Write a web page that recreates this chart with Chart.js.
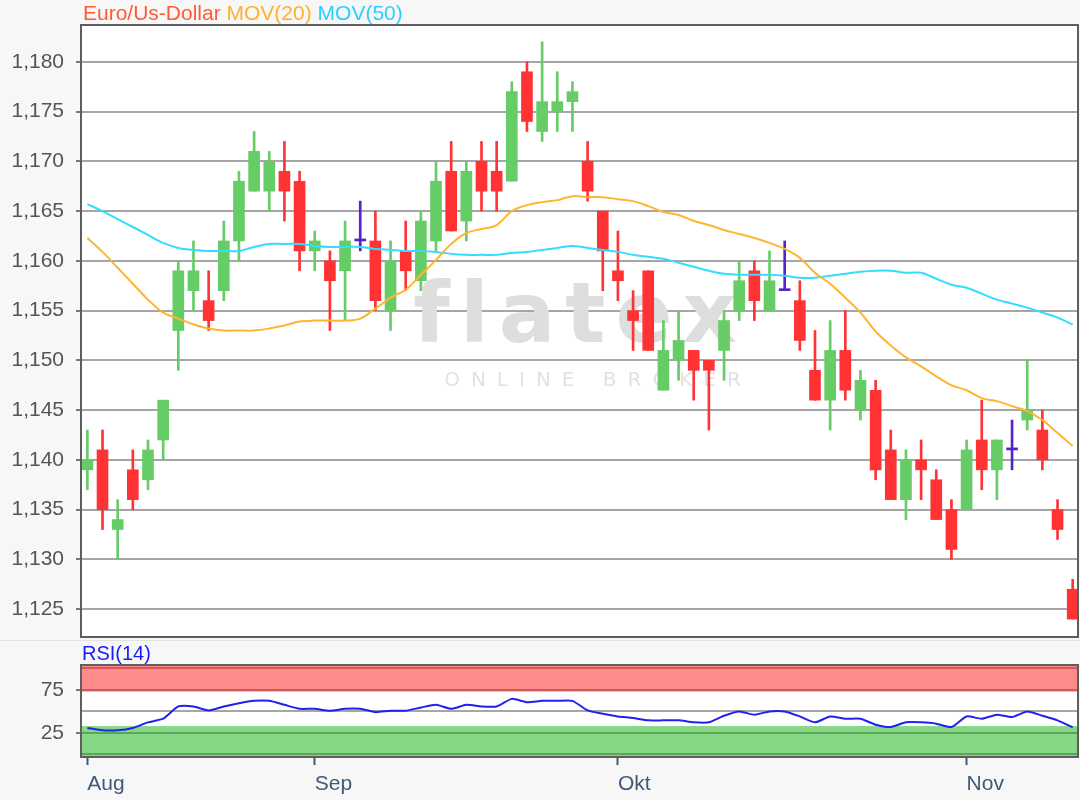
<!DOCTYPE html>
<html>
<head>
<meta charset="utf-8">
<script src="https://cdn.jsdelivr.net/npm/chart.js@4.4.1/dist/chart.umd.min.js"></script>
<style>
  html, body { margin: 0; padding: 0; background: #f7f7f7; }
  #wrap { position: relative; width: 1080px; height: 800px; }
  #priceBox { position: absolute; left: 0; top: 0; width: 1080px; height: 640px; }
  #rsiBox { position: absolute; left: 0; top: 640px; width: 1080px; height: 160px; }
</style>
</head>
<body>
<div id="wrap">
  <div id="priceBox"><canvas id="priceChart" width="1080" height="640"></canvas></div>
  <div id="rsiBox"><canvas id="rsiChart" width="1080" height="160"></canvas></div>
</div>
<script>
/* =========================
   DATA (daily candles)
========================= */

const opens = [
  1.139, 1.141, 1.133, 1.139, 1.138, 1.142, 1.153, 1.157, 1.156, 1.157,
  1.162, 1.167, 1.167, 1.169, 1.168, 1.161, 1.160, 1.159, 1.162, 1.162,
  1.155, 1.161, 1.158, 1.162, 1.169, 1.164, 1.170, 1.169, 1.168, 1.179,
  1.173, 1.175, 1.176, 1.170, 1.165, 1.159, 1.155, 1.159, 1.147, 1.150,
  1.151, 1.150, 1.151, 1.155, 1.159, 1.155, 1.157, 1.156, 1.149, 1.146,
  1.151, 1.145, 1.147, 1.141, 1.136, 1.140, 1.138, 1.135, 1.135, 1.142,
  1.139, 1.141, 1.144, 1.143, 1.135, 1.127
];
const closes = [
  1.140, 1.135, 1.134, 1.136, 1.141, 1.146, 1.159, 1.159, 1.154, 1.162,
  1.168, 1.171, 1.170, 1.167, 1.161, 1.162, 1.158, 1.162, 1.162, 1.156,
  1.160, 1.159, 1.164, 1.168, 1.163, 1.169, 1.167, 1.167, 1.177, 1.174,
  1.176, 1.176, 1.177, 1.167, 1.161, 1.158, 1.154, 1.151, 1.151, 1.152,
  1.149, 1.149, 1.154, 1.158, 1.156, 1.158, 1.157, 1.152, 1.146, 1.151,
  1.147, 1.148, 1.139, 1.136, 1.140, 1.139, 1.134, 1.131, 1.141, 1.139,
  1.142, 1.141, 1.145, 1.140, 1.133, 1.124
];
const highs = [
  1.143, 1.143, 1.136, 1.141, 1.142, 1.146, 1.160, 1.162, 1.159, 1.164,
  1.169, 1.173, 1.171, 1.172, 1.169, 1.163, 1.161, 1.164, 1.166, 1.165,
  1.162, 1.164, 1.165, 1.170, 1.172, 1.170, 1.172, 1.172, 1.178, 1.180,
  1.182, 1.179, 1.178, 1.172, 1.165, 1.163, 1.157, 1.159, 1.154, 1.155,
  1.151, 1.150, 1.155, 1.160, 1.160, 1.161, 1.162, 1.158, 1.153, 1.154,
  1.155, 1.149, 1.148, 1.143, 1.141, 1.142, 1.139, 1.136, 1.142, 1.146,
  1.142, 1.144, 1.150, 1.145, 1.136, 1.128
];
const lows = [
  1.137, 1.133, 1.130, 1.135, 1.137, 1.140, 1.149, 1.155, 1.153, 1.156,
  1.160, 1.167, 1.165, 1.164, 1.159, 1.159, 1.153, 1.154, 1.161, 1.155,
  1.153, 1.157, 1.157, 1.161, 1.163, 1.162, 1.165, 1.165, 1.168, 1.173,
  1.172, 1.173, 1.173, 1.166, 1.157, 1.156, 1.151, 1.151, 1.147, 1.148,
  1.146, 1.143, 1.148, 1.154, 1.154, 1.155, 1.157, 1.151, 1.146, 1.143,
  1.146, 1.144, 1.138, 1.136, 1.134, 1.136, 1.134, 1.130, 1.135, 1.137,
  1.136, 1.139, 1.143, 1.139, 1.132, 1.124
];

const mov20 = [
  1.1623, 1.1609, 1.1593, 1.1577, 1.1561, 1.1548, 1.1542, 1.1536, 1.1532, 1.1530,
  1.1530, 1.1530, 1.1532, 1.1535, 1.1539, 1.1540, 1.1540, 1.1540, 1.1542, 1.1552,
  1.1563, 1.1571, 1.1586, 1.1601, 1.1617, 1.1628, 1.1632, 1.1636, 1.1650, 1.1656,
  1.1659, 1.1661, 1.1665, 1.1664, 1.1664, 1.1662, 1.1660, 1.1655, 1.1649, 1.1646,
  1.1640, 1.1636, 1.1631, 1.1627, 1.1623, 1.1618, 1.1612, 1.1603, 1.1588, 1.1577,
  1.1563, 1.1548, 1.1529, 1.1515, 1.1503, 1.1494, 1.1484, 1.1475, 1.1470, 1.1462,
  1.1459, 1.1454, 1.1449, 1.1440, 1.1427, 1.1414
];
const mov50 = [
  1.1657, 1.1650, 1.1642, 1.1634, 1.1626, 1.1618, 1.1613, 1.1611, 1.1610, 1.1610,
  1.1610, 1.1614, 1.1617, 1.1617, 1.1617, 1.1615, 1.1614, 1.1614, 1.1614, 1.1612,
  1.1611, 1.1610, 1.1610, 1.1609, 1.1607, 1.1606, 1.1606, 1.1606, 1.1608, 1.1609,
  1.1611, 1.1613, 1.1615, 1.1613, 1.1611, 1.1609, 1.1606, 1.1604, 1.1602, 1.1598,
  1.1594, 1.1590, 1.1587, 1.1586, 1.1586, 1.1586, 1.1585, 1.1583, 1.1583, 1.1585,
  1.1587, 1.1589, 1.1590, 1.1590, 1.1588, 1.1588, 1.1582, 1.1576, 1.1573, 1.1567,
  1.1561, 1.1557, 1.1553, 1.1548, 1.1543, 1.1536
];

const rsi14 = [
  30.8, 28.1, 28.1, 30.8, 37.3, 41.5, 55.8, 55.8, 51.2, 55.8,
  59.6, 62.3, 62.3, 57.7, 53.1, 53.1, 50.8, 53.1, 53.1, 49.2,
  50.8, 50.8, 54.6, 57.7, 53.1, 57.7, 55.8, 55.8, 64.6, 60.8,
  62.3, 62.3, 62.3, 51.2, 47.3, 44.2, 42.3, 39.6, 39.6, 39.6,
  37.3, 37.3, 45.0, 50.0, 46.2, 50.0, 50.0, 44.2, 37.3, 44.2,
  41.5, 41.5, 34.6, 31.9, 37.3, 37.3, 35.8, 31.9, 44.2, 41.5,
  46.2, 43.5, 50.0, 45.0, 39.6, 31.5
];

const monthLabels = ["Aug", "Sep", "Okt", "Nov"];
const monthStarts = [0, 15, 35, 58];
const priceTicks = [1.125, 1.130, 1.135, 1.140, 1.145, 1.150, 1.155, 1.160, 1.165, 1.170, 1.175, 1.180];
const rsiTicks = [0, 25, 50, 75, 100];
const rsiLabelled = [25, 75];
const titleParts = ["Euro/Us-Dollar", "MOV(20)", "MOV(50)"];

/* =========================
   STYLE
========================= */

const UP = "#66cc66";
const DOWN = "#ff3333";
const FLAT = "#5522cc";
const FONT = '"Liberation Sans", Arial, sans-serif';
const titleColors = ["#ff5a36", "#ffb02e", "#2ccfff"];

const xMin = -0.42;
const xMax = 65.35;
const days = opens.map((_, i) => i);

function candleColor(i) {
  if (closes[i] > opens[i]) return UP;
  if (closes[i] < opens[i]) return DOWN;
  return FLAT;
}

// keep tick labels from eating into the plot height
function fixAxisWidth(axis) {
  axis.width = 81;
  axis.paddingTop = 0;
  axis.paddingBottom = 0;
}

const plotFrame = {
  id: "plotFrame",
  beforeDraw(chart) {
    const { ctx, chartArea: a } = chart;
    ctx.save();
    ctx.fillStyle = "#ffffff";
    ctx.fillRect(a.left, a.top, a.right - a.left, a.bottom - a.top);
    ctx.restore();
  },
  afterDraw(chart) {
    const { ctx, chartArea: a } = chart;
    ctx.save();
    ctx.strokeStyle = "#5e5e5e";
    ctx.lineWidth = 2;
    ctx.strokeRect(a.left, a.top, a.right - a.left, a.bottom - a.top);
    ctx.restore();
  }
};

const header = {
  id: "header",
  afterDraw(chart) {
    const ctx = chart.ctx;
    ctx.save();
    ctx.font = "21px " + FONT;
    ctx.textBaseline = "middle";
    let x = 83;
    titleParts.forEach((t, i) => {
      ctx.fillStyle = titleColors[i];
      ctx.fillText(t, x, 14);
      x += ctx.measureText(t + " ").width;
    });
    ctx.restore();
  }
};

// flatex logo behind the candles
const watermark = {
  id: "watermark",
  beforeDatasetsDraw(chart) {
    const ctx = chart.ctx;
    ctx.save();
    ctx.fillStyle = "#dedede";
    ctx.textAlign = "center";
    ctx.textBaseline = "alphabetic";
    ctx.font = 'bold 84px "DejaVu Sans", sans-serif';
    ctx.letterSpacing = "10px";
    ctx.fillText("flatex", 580, 342);
    ctx.fillStyle = "#e2e2e2";
    ctx.font = '20px "DejaVu Sans", sans-serif';
    ctx.letterSpacing = "11px";
    ctx.fillText("ONLINE BROKER", 598, 386);
    ctx.restore();
  }
};

/* =========================
   PRICE CHART
========================= */

new Chart(document.getElementById("priceChart"), {
  type: "bar",
  data: {
    datasets: [
      {
        type: "line",
        label: "MOV(20)",
        data: days.map(i => ({ x: i, y: mov20[i] })),
        borderColor: "#ffb52e",
        borderWidth: 2,
        pointRadius: 0,
        tension: 0.35,
        order: 0
      },
      {
        type: "line",
        label: "MOV(50)",
        data: days.map(i => ({ x: i, y: mov50[i] })),
        borderColor: "#33ddff",
        borderWidth: 2,
        pointRadius: 0,
        tension: 0.35,
        order: 0
      },
      {
        label: "body",
        data: days.map(i => ({ x: i, y: [opens[i], closes[i]] })),
        backgroundColor: days.map(candleColor),
        barThickness: 11,
        minBarLength: 2,
        grouped: false,
        order: 1
      },
      {
        label: "wick",
        data: days.map(i => ({ x: i, y: [lows[i], highs[i]] })),
        backgroundColor: days.map(candleColor),
        barThickness: 2,
        grouped: false,
        order: 2
      }
    ]
  },
  options: {
    responsive: false,
    animation: false,
    devicePixelRatio: 1,
    layout: { padding: { top: 25, right: 2, bottom: 3, left: 0 } },
    plugins: {
      legend: { display: false },
      tooltip: { enabled: false }
    },
    scales: {
      x: {
        type: "linear",
        min: xMin,
        max: xMax,
        offset: false,
        display: false
      },
      y: {
        min: 1.1222,
        max: 1.1837,
        afterBuildTicks: axis => {
          axis.ticks = priceTicks.map(v => ({ value: v }));
        },
        afterFit: fixAxisWidth,
        border: { display: false },
        grid: {
          color: "#a6a6a6",
          lineWidth: 2,
          tickColor: "#777777",
          tickLength: 5
        },
        ticks: {
          autoSkip: false,
          padding: 12,
          color: "#555555",
          font: { family: FONT, size: 21 },
          callback: v => v.toFixed(3).replace(".", ",")
        }
      }
    }
  },
  plugins: [plotFrame, watermark, header]
});

/* =========================
   RSI CHART
========================= */

const rsiBands = {
  id: "rsiBands",
  beforeDatasetsDraw(chart) {
    const { ctx, chartArea: a, scales: { y } } = chart;
    ctx.save();
    ctx.fillStyle = "rgba(255,0,0,0.46)";
    const rTop = y.getPixelForValue(y.max);
    const rBot = y.getPixelForValue(73);
    ctx.fillRect(a.left, rTop, a.right - a.left, rBot - rTop);
    ctx.fillStyle = "rgba(0,170,0,0.47)";
    const gTop = y.getPixelForValue(33);
    const gBot = y.getPixelForValue(y.min);
    ctx.fillRect(a.left, gTop, a.right - a.left, gBot - gTop);
    ctx.restore();
  },
  afterDraw(chart) {
    const ctx = chart.ctx;
    ctx.save();
    ctx.strokeStyle = "#e2e2e2";
    ctx.lineWidth = 1;
    ctx.beginPath();
    ctx.moveTo(0, 0.5);
    ctx.lineTo(1080, 0.5);
    ctx.stroke();
    ctx.font = "20px " + FONT;
    ctx.fillStyle = "#1a1aff";
    ctx.textBaseline = "middle";
    ctx.fillText("RSI(14)", 82, 14);
    ctx.restore();
  }
};

new Chart(document.getElementById("rsiChart"), {
  type: "line",
  data: {
    datasets: [{
      label: "RSI(14)",
      data: days.map(i => ({ x: i, y: rsi14[i] })),
      borderColor: "#2020f0",
      borderWidth: 2,
      pointRadius: 0,
      tension: 0.2
    }]
  },
  options: {
    responsive: false,
    animation: false,
    devicePixelRatio: 1,
    layout: { padding: { top: 25, right: 2, bottom: 0, left: 0 } },
    plugins: {
      legend: { display: false },
      tooltip: { enabled: false }
    },
    scales: {
      x: {
        type: "linear",
        min: xMin,
        max: xMax,
        offset: false,
        afterBuildTicks: axis => {
          axis.ticks = monthStarts.map(v => ({ value: v }));
        },
        afterFit: axis => {
          axis.height = 43;
          axis.paddingLeft = 0;
          axis.paddingRight = 0;
        },
        border: { display: false },
        grid: {
          drawOnChartArea: false,
          drawTicks: true,
          tickLength: 8,
          tickWidth: 2,
          tickColor: "#3d5a78"
        },
        ticks: {
          align: "start",
          autoSkip: false,
          maxRotation: 0,
          padding: 7,
          color: "#3d5a78",
          font: { family: FONT, size: 21 },
          callback: v => monthLabels[monthStarts.indexOf(v)]
        }
      },
      y: {
        min: -3,
        max: 104,
        afterBuildTicks: axis => {
          axis.ticks = rsiTicks.map(v => ({ value: v }));
        },
        afterFit: fixAxisWidth,
        border: { display: false },
        grid: {
          color: "#a6a6a6",
          lineWidth: 2,
          tickLength: 5,
          tickColor: ctx => (ctx.tick && rsiLabelled.includes(ctx.tick.value)) ? "#777777" : "rgba(0,0,0,0)"
        },
        ticks: {
          autoSkip: false,
          padding: 12,
          color: "#555555",
          font: { family: FONT, size: 21 },
          callback: v => rsiLabelled.includes(v) ? String(v) : ""
        }
      }
    }
  },
  plugins: [plotFrame, rsiBands]
});
</script>
</body>
</html>
